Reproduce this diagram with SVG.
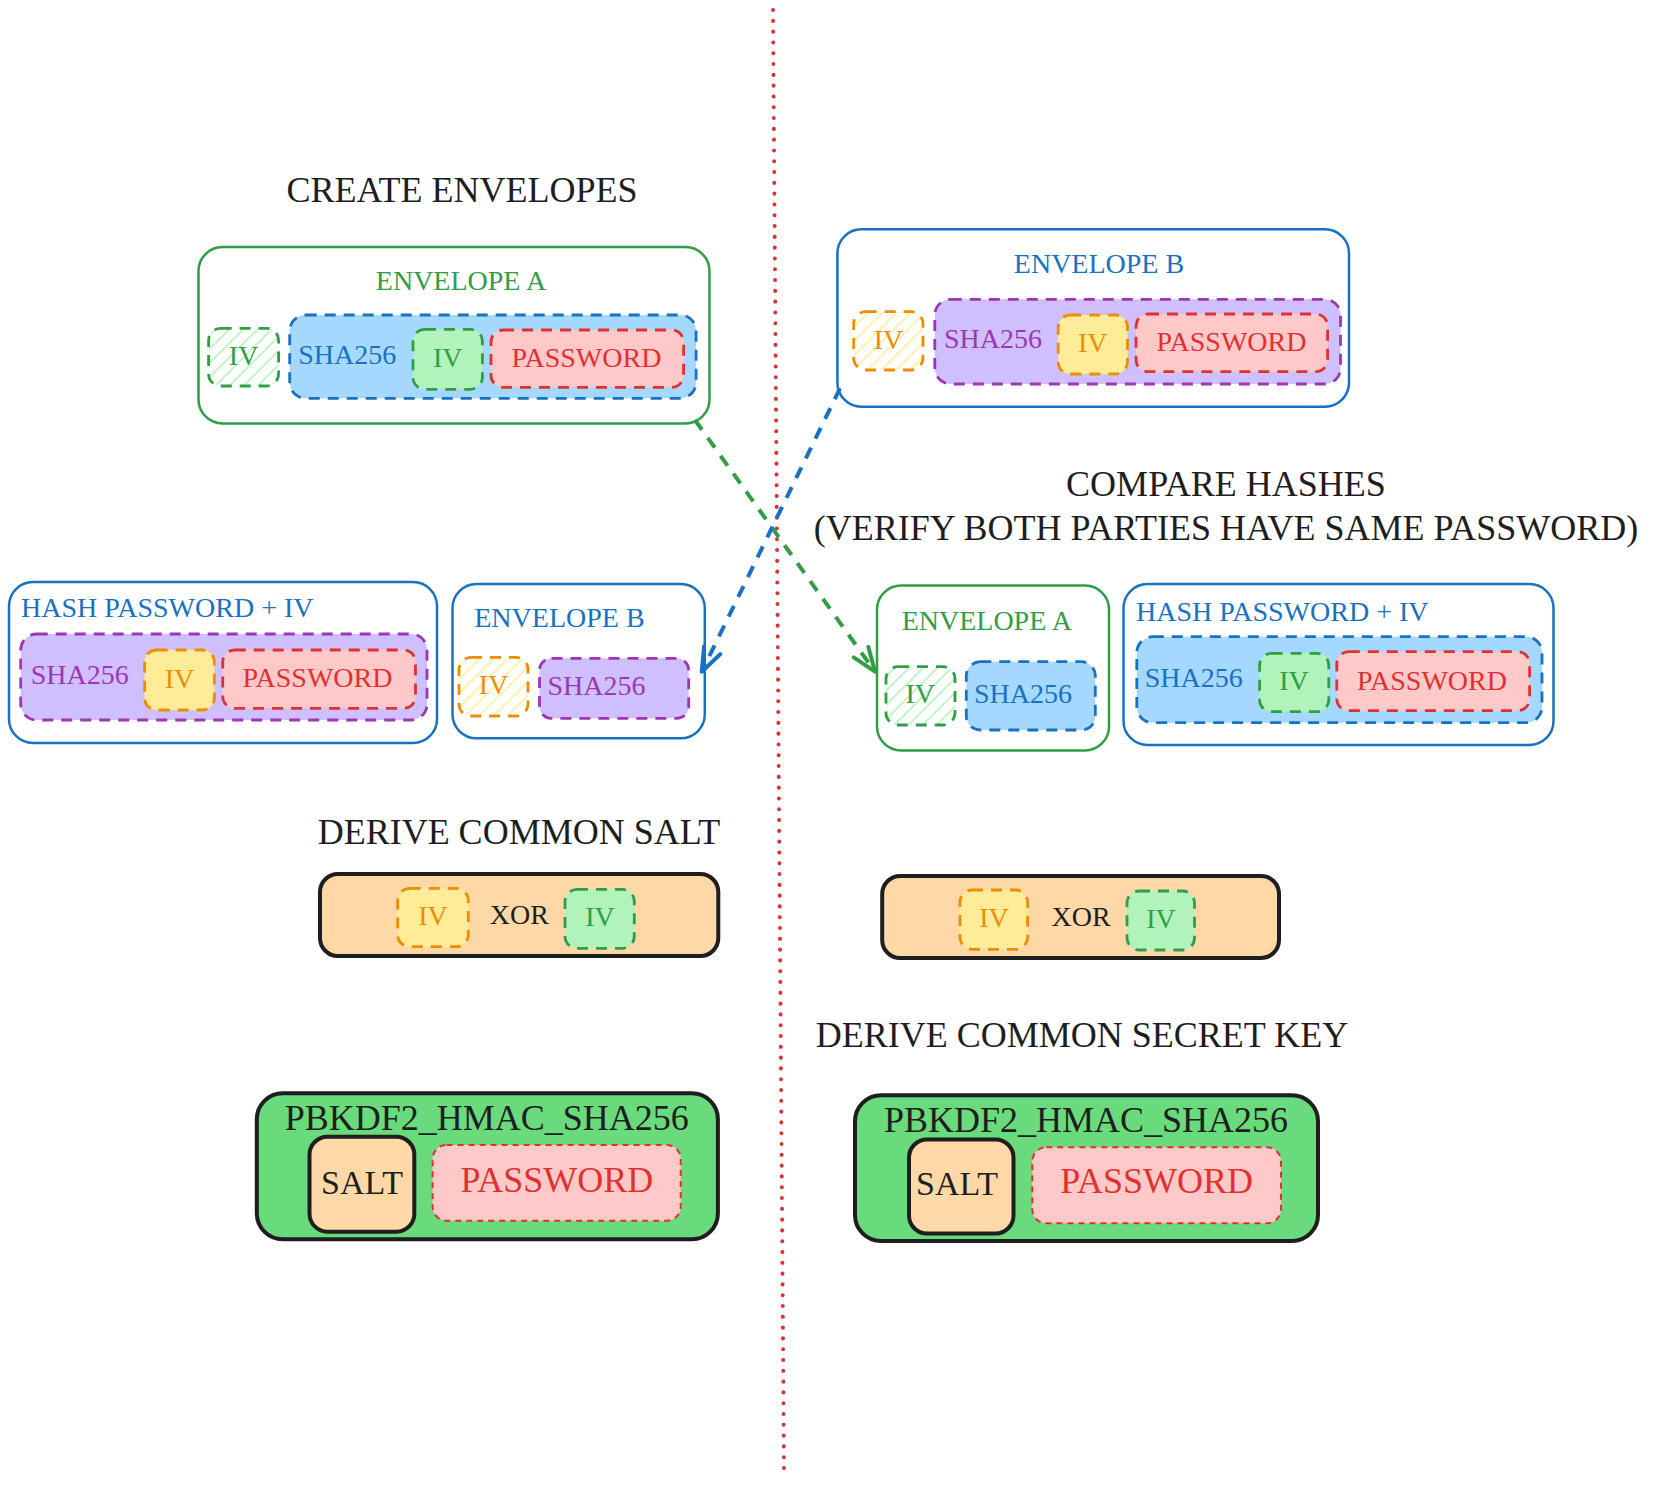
<svg xmlns="http://www.w3.org/2000/svg" width="1656" height="1485" viewBox="0 0 1656 1485">
<style>
text{font-family:"Liberation Serif","Times New Roman",serif;}
.s28{font-size:28px;}
.s34{font-size:34px;}
.s36{font-size:36px;}
.m{text-anchor:middle;}
.k{fill:#1e1e1e;}
.tg{fill:#2f9e44;}
.tb{fill:#1971c2;}
.tp{fill:#9c36b5;}
.to{fill:#f08c00;}
.tr{fill:#e03131;}
.outer{fill:#ffffff;stroke-width:2.5;}
.og{stroke:#2f9e44;}
.ob{stroke:#1971c2;}
.d{stroke-width:2.8;stroke-dasharray:11 8;}
.dg{stroke:#2f9e44;}
.db{stroke:#1971c2;}
.dp{stroke:#9c36b5;}
.do{stroke:#f08c00;}
.dr{stroke:#e03131;}
.fg{fill:#b2f2bb;}
.fb{fill:#a5d8ff;}
.fp{fill:#d0bfff;}
.fy{fill:#ffec99;}
.fr{fill:#ffc9c9;}
.hg{fill:url(#hatchG);}
.ho{fill:url(#hatchO);}
.thick{stroke:#1e1e1e;stroke-width:4;}
.conn{fill:none;stroke-width:4;stroke-dasharray:12 10;}
</style>
<defs>
<pattern id="hatchG" width="10" height="10" patternUnits="userSpaceOnUse" patternTransform="rotate(45)">
<line x1="5" y1="0" x2="5" y2="10" stroke="#b2f2bb" stroke-width="1.6"/>
</pattern>
<pattern id="hatchO" width="10" height="10" patternUnits="userSpaceOnUse" patternTransform="rotate(45)">
<line x1="5" y1="0" x2="5" y2="10" stroke="#ffec99" stroke-width="1.6"/>
</pattern>
<marker id="arrG" markerUnits="userSpaceOnUse" markerWidth="60" markerHeight="60" refX="0" refY="0" viewBox="-30 -30 60 60" orient="auto" overflow="visible">
<path d="M-24,-9 L0,0 L-24,9" fill="none" stroke="#2f9e44" stroke-width="4" stroke-linecap="round" stroke-linejoin="round"/>
</marker>
<marker id="arrB" markerUnits="userSpaceOnUse" markerWidth="60" markerHeight="60" refX="0" refY="0" viewBox="-30 -30 60 60" orient="auto" overflow="visible">
<path d="M-24,-9 L0,0 L-24,9" fill="none" stroke="#1971c2" stroke-width="4" stroke-linecap="round" stroke-linejoin="round"/>
</marker>
</defs>
<rect x="0" y="0" width="1656" height="1485" fill="#ffffff"/>

<g id="divider">
<line x1="773" y1="10" x2="784" y2="1471" stroke="#e03131" stroke-width="4" stroke-linecap="round" stroke-dasharray="0.1 10.7"/>
</g>

<g id="titles">
<text class="s36 m k" x="462" y="202">CREATE ENVELOPES</text>
<text class="s36 m k" x="1226" y="496">COMPARE HASHES</text>
<text class="s36 m k" x="1226" y="539.5">(VERIFY BOTH PARTIES HAVE SAME PASSWORD)</text>
<text class="s36 m k" x="519" y="844">DERIVE COMMON SALT</text>
<text class="s36 m k" x="1082" y="1047">DERIVE COMMON SECRET KEY</text>
</g>

<g id="envelopeA-left">
<rect class="outer og" x="198.5" y="247" width="511" height="176.5" rx="24"/>
<text class="s28 m tg" x="461" y="290">ENVELOPE A</text>
<rect class="hg d dg" x="208.6" y="328.3" width="70" height="57.7" rx="12"/>
<text class="s28 m tg" x="243.6" y="365">IV</text>
<rect class="fb d db" x="289.7" y="315" width="406.4" height="83.3" rx="16"/>
<text class="s28 m tb" x="347.2" y="364.3">SHA256</text>
<rect class="fg d dg" x="413" y="329.3" width="69.4" height="60" rx="12"/>
<text class="s28 m tg" x="447.7" y="367">IV</text>
<rect class="fr d dr" x="491" y="330" width="192.6" height="57.3" rx="12"/>
<text class="s28 m tr" x="586.4" y="367">PASSWORD</text>
</g>

<g id="envelopeB-right">
<rect class="outer ob" x="837.4" y="229.3" width="511.6" height="177.4" rx="24"/>
<text class="s28 m tb" x="1099" y="272.7">ENVELOPE B</text>
<rect class="ho d do" x="853.7" y="311.7" width="69.3" height="58.3" rx="12"/>
<text class="s28 m to" x="888.4" y="348.5">IV</text>
<rect class="fp d dp" x="934.8" y="299.3" width="405.7" height="84.7" rx="16"/>
<text class="s28 m tp" x="993" y="348.3">SHA256</text>
<rect class="fy d do" x="1058.2" y="315" width="69.3" height="59" rx="12"/>
<text class="s28 m to" x="1092.8" y="352">IV</text>
<rect class="fr d dr" x="1136" y="314" width="191.6" height="57.7" rx="12"/>
<text class="s28 m tr" x="1231.5" y="351">PASSWORD</text>
</g>

<g id="hash-left">
<rect class="outer ob" x="9" y="582" width="428" height="161" rx="24"/>
<text class="s28 tb" x="21" y="617">HASH PASSWORD + IV</text>
<rect class="fp d dp" x="20.7" y="634" width="406.3" height="86" rx="16"/>
<text class="s28 m tp" x="79.7" y="683.5">SHA256</text>
<rect class="fy d do" x="144.6" y="650" width="69.8" height="60" rx="12"/>
<text class="s28 m to" x="179.5" y="687.5">IV</text>
<rect class="fr d dr" x="222.7" y="650" width="192.8" height="58.3" rx="12"/>
<text class="s28 m tr" x="317.5" y="687">PASSWORD</text>
</g>

<g id="envelopeB-left">
<rect class="outer ob" x="452.5" y="584" width="252.3" height="154.3" rx="24"/>
<text class="s28 m tb" x="559.4" y="626.7">ENVELOPE B</text>
<rect class="ho d do" x="459" y="657.3" width="69" height="58.7" rx="12"/>
<text class="s28 m to" x="493.6" y="694">IV</text>
<rect class="fp d dp" x="539.5" y="658.3" width="149.2" height="60" rx="12"/>
<text class="s28 m tp" x="596.5" y="695">SHA256</text>
</g>

<g id="envelopeA-right">
<rect class="outer og" x="877" y="585.5" width="232" height="165" rx="24"/>
<text class="s28 m tg" x="986.8" y="630">ENVELOPE A</text>
<rect class="hg d dg" x="886" y="666.7" width="69" height="58.3" rx="12"/>
<text class="s28 m tg" x="920.3" y="703">IV</text>
<rect class="fb d db" x="966.3" y="661.7" width="129" height="68.3" rx="14"/>
<text class="s28 m tb" x="1023" y="703">SHA256</text>
</g>

<g id="hash-right">
<rect class="outer ob" x="1123.5" y="584" width="430" height="161" rx="24"/>
<text class="s28 tb" x="1136" y="620.7">HASH PASSWORD + IV</text>
<rect class="fb d db" x="1136.8" y="636.7" width="405.2" height="86" rx="16"/>
<text class="s28 m tb" x="1193.7" y="687.3">SHA256</text>
<rect class="fg d dg" x="1259.6" y="653.3" width="69.2" height="58.4" rx="12"/>
<text class="s28 m tg" x="1294" y="690">IV</text>
<rect class="fr d dr" x="1336.8" y="651.7" width="192.8" height="59" rx="12"/>
<text class="s28 m tr" x="1432" y="689.5">PASSWORD</text>
</g>

<g id="xor-left">
<rect x="320" y="874" width="398.3" height="82" rx="18" fill="#ffd8a8" class="thick"/>
<rect class="fy d do" x="397.7" y="888.3" width="70.6" height="58.4" rx="12"/>
<text class="s28 m to" x="433" y="925">IV</text>
<text class="s28 m k" x="519.3" y="924">XOR</text>
<rect class="fg d dg" x="565" y="889.3" width="69.3" height="59" rx="12"/>
<text class="s28 m tg" x="600" y="926">IV</text>
</g>

<g id="xor-right">
<rect x="882.2" y="876" width="396.8" height="82" rx="18" fill="#ffd8a8" class="thick"/>
<rect class="fy d do" x="960" y="890" width="67.6" height="59.3" rx="12"/>
<text class="s28 m to" x="994" y="927">IV</text>
<text class="s28 m k" x="1081" y="926">XOR</text>
<rect class="fg d dg" x="1127" y="891" width="67.5" height="59" rx="12"/>
<text class="s28 m tg" x="1161" y="928">IV</text>
</g>

<g id="pbkdf2-left">
<rect x="256.8" y="1093.3" width="461.1" height="146" rx="26" fill="#69db7c" class="thick"/>
<text class="s36 m k" x="486.7" y="1130">PBKDF2_HMAC_SHA256</text>
<rect x="309.5" y="1136.7" width="104.8" height="95" rx="18" fill="#ffd8a8" class="thick"/>
<text class="s34 m k" x="362" y="1194">SALT</text>
<rect x="432.6" y="1145" width="248.1" height="75.7" rx="14" class="fr" stroke="#e03131" stroke-width="2" stroke-dasharray="6 5"/>
<text class="s36 m tr" x="556.8" y="1191.7">PASSWORD</text>
</g>

<g id="pbkdf2-right">
<rect x="855" y="1095.3" width="463" height="145.7" rx="26" fill="#69db7c" class="thick"/>
<text class="s36 m k" x="1086" y="1132">PBKDF2_HMAC_SHA256</text>
<rect x="909" y="1139.5" width="104.5" height="94" rx="18" fill="#ffd8a8" class="thick"/>
<text class="s34 m k" x="957" y="1195">SALT</text>
<rect x="1032.3" y="1147.3" width="248.7" height="76" rx="14" class="fr" stroke="#e03131" stroke-width="2" stroke-dasharray="6 5"/>
<text class="s36 m tr" x="1156.7" y="1193">PASSWORD</text>
</g>

<g id="connectors">
<path class="conn" stroke="#2f9e44" d="M695,420 L875,671.7" marker-end="url(#arrG)"/>
<path class="conn" stroke="#1971c2" d="M840,388.3 L701.7,671.7" marker-end="url(#arrB)"/>
</g>
</svg>
